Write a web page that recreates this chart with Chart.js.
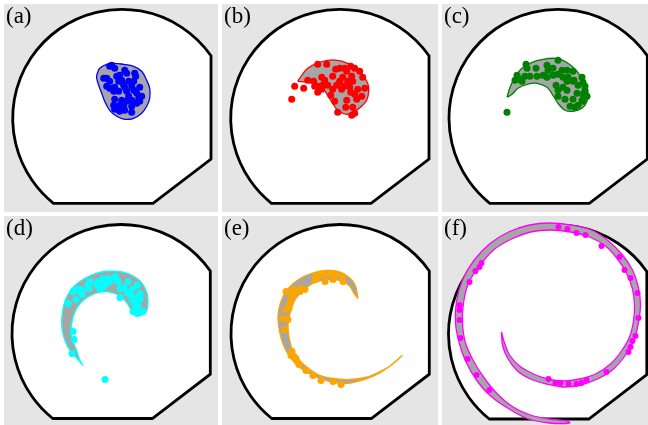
<!DOCTYPE html>
<html>
<head>
<meta charset="utf-8">
<script src="https://cdn.jsdelivr.net/npm/chart.js@4.4.0/dist/chart.umd.min.js"></script>
<style>
  html, body { margin: 0; padding: 0; background: #fff; }
  #wrap { position: relative; width: 648px; height: 425px; overflow: hidden; }
  .panel { position: absolute; background: #e5e5e5; overflow: hidden; }
  .panel canvas { position: absolute; left: 0; top: 0; }
  .tag { position: absolute; left: 2px; top: 0; font-family: 'Liberation Serif', 'DejaVu Serif', serif;
         font-size: 23px; line-height: 1; color: #000; }
</style>
</head>
<body>
<div id="wrap"></div>
<script>
// Panel tags and colours
const PANEL_TAGS = ['(a)', '(b)', '(c)', '(d)', '(e)', '(f)'];
const PANEL_COLORS = ['#0000ff', '#ff0000', '#008000', '#00ffff', '#ffa500', '#ff00ff'];

// Wafer outline (same units as the points, centre at 0,0)
const WAFER_R = 109;
const FLAT_RIGHT = 89.3;
const FLAT_BOTTOM = -85;
const CHAMFER = [[31.3, -85], [89.3, -40.7]];

// Cluster outlines (closed) and defect points, one pair per panel
const SHAPE_A = [[-25,43],[-22,50],[-15,54],[-8,55],[2,54],[12,52],[20,47],[25,38],[28,30],[28,20],[25,12],[20,5],[12,0],[3,-1],[-5,2],[-12,8],[-17,17],[-20,25],[-23,33],[-25,40],[-25,43]];
const PTS_A = [[-10,53],[-12,52],[-7,50],[3,48],[5,45],[13,45],[14,42],[-18,40],[-15,40],[0,38],[-3,37],[7,37],[-15,32],[-12,30],[-7,31],[2,33],[3,31],[10,32],[18,31],[-8,27],[-3,27],[5,27],[12,28],[15,25],[20,22],[-7,19],[0,18],[7,22],[10,18],[17,20],[18,17],[-8,13],[-2,13],[5,17],[2,12],[10,12],[15,15],[-7,9],[-2,7],[3,8],[10,6],[-12,37],[-5,42],[-2,43],[12,37]];

const SHAPE_B = [[-42,37],[-38,43],[-32,50],[-23,55],[-12,58],[-2,58],[8,55],[17,50],[23,43],[28,35],[29,27],[27,18],[22,12],[15,7],[7,4],[-2,8],[-7,15],[-12,23],[-17,30],[-23,34],[-32,36],[-42,37]];
const PTS_B = [[-22,54],[-13,54],[-4,49],[0,50],[5,50],[11,52],[15,50],[20,47],[23,41],[-32,38],[-26,37],[-18,41],[-15,38],[-7,42],[7,47],[3,41],[12,42],[8,37],[13,37],[4,32],[10,31],[18,29],[25,30],[-45,32],[-36,30],[-22,32],[-18,29],[-22,26],[-12,33],[-9,23],[-7,29],[-3,33],[2,29],[11,26],[15,24],[22,22],[-48,19],[-5,17],[7,18],[-2,6],[6,11],[13,11],[12,3],[15,5],[-25,32],[17,19],[0,37],[-17,33]];

const SHAPE_C = [[-51,21],[-48,31],[-43,41],[-36,50],[-26,56],[-15,59],[-3,60],[5,58],[14,52],[22,43],[28,33],[30,25],[29,17],[24,10],[15,7],[7,8],[0,15],[-5,23],[-11,31],[-21,35],[-31,34],[-40,30],[-46,24],[-51,21]];
const PTS_C = [[-32,54],[-31,50],[-22,50],[-11,53],[0,58],[-10,48],[-5,50],[4,48],[9,48],[15,47],[24,41],[-41,43],[-38,39],[-33,42],[-28,42],[-21,42],[-15,43],[-11,41],[-5,43],[0,44],[5,41],[10,41],[16,38],[9,37],[15,37],[20,33],[25,36],[-2,33],[5,31],[9,28],[0,28],[27,28],[19,25],[25,24],[29,22],[0,22],[7,19],[15,19],[24,18],[20,13],[12,12],[17,11],[-51,6],[-43,38],[-36,37],[25,17],[27,32]];

const SHAPE_D = [[-38,-32],[-44,-25],[-51,-17],[-56,-7],[-59,5],[-59,17],[-57,29],[-53,39],[-46,48],[-38,54],[-28,59],[-16,62],[-4,62],[7,60],[16,55],[22,49],[26,40],[27,32],[26,24],[22,19],[16,18],[11,22],[7,29],[2,35],[-6,40],[-16,42],[-26,40],[-34,36],[-41,30],[-46,22],[-49,12],[-50,2],[-48,-8],[-44,-18],[-41,-27],[-38,-32]];
const PTS_D = [[-53,30],[-48,42],[-44,44],[-45,34],[-39,39],[-39,44],[-33,49],[-31,52],[-32,45],[-24,49],[-23,52],[-18,55],[-18,47],[-14,50],[-13,55],[-6,57],[-11,52],[-3,52],[-1,45],[-1,36],[3,46],[7,52],[11,44],[9,39],[11,34],[16,48],[19,40],[16,36],[14,29],[17,27],[16,20],[22,22],[-48,2],[-47,-6],[-49,-20],[-16,-46],[-4,54],[6,41],[12,22],[-21,45],[19,34]];

const SHAPE_E = [[18,35],[15,49],[8,57],[-2,62],[-15,63],[-29,60],[-40,55],[-50,47],[-57,37],[-61,25],[-62,14],[-60,0],[-56,-13],[-49,-25],[-39,-35],[-25,-43],[-10,-48],[6,-50],[21,-47],[35,-42],[48,-34],[62,-22],[51,-32],[38,-39],[25,-44],[10,-46],[-7,-45],[-22,-41],[-34,-33],[-42,-25],[-48,-15],[-51,-3],[-52,9],[-50,20],[-46,32],[-39,41],[-29,49],[-19,53],[-7,54],[3,52],[10,47],[14,40],[18,35]];
const PTS_E = [[-24,57],[-19,59],[-14,60],[-9,60],[-5,59],[-7,54],[-15,52],[2,57],[3,52],[-25,54],[-35,44],[-40,42],[-45,43],[-54,42],[-48,38],[-49,34],[-51,25],[-54,24],[-57,15],[-52,14],[-55,4],[-48,-18],[-46,-23],[-44,-25],[-41,-31],[-34,-37],[-27,-42],[-19,-47],[-7,-48],[1,-51],[-50,30],[-47,44],[-39,45],[-49,-22]];

const SHAPE_F = [[-56,2],[-55,-11],[-50,-24],[-40,-37],[-27,-45],[-11,-50],[6,-53],[23,-51],[40,-45],[56,-35],[68,-21],[77,-5],[81,12],[83,29],[81,46],[75,64],[65,79],[51,93],[34,104],[13,109],[-8,111],[-28,109],[-49,102],[-68,90],[-84,73],[-95,54],[-101,33],[-102,11],[-98,-10],[-91,-29],[-81,-46],[-68,-61],[-50,-74],[-29,-85],[-8,-89],[12,-89],
  [10,-87],[-8,-85],[-27,-81],[-46,-72],[-62,-58],[-74,-43],[-84,-27],[-92,-9],[-95,11],[-94,31],[-89,51],[-78,68],[-64,84],[-46,95],[-27,102],[-7,104],[13,102],[32,97],[48,88],[60,75],[69,61],[75,45],[77,29],[76,13],[72,-3],[64,-17],[53,-30],[38,-40],[22,-45],[6,-47],[-10,-45],[-24,-40],[-38,-32],[-48,-21],[-53,-9],[-56,2]];
const PTS_F = [[1,107],[10,105],[19,101],[28,99],[44,88],[62,77],[67,64],[73,56],[80,41],[81,16],[78,-2],[75,-7],[73,-13],[71,-18],[49,-38],[29,-46],[24,-49],[19,-50],[11,-50],[3,-49],[-2,-49],[-9,-45],[-78,67],[-82,63],[-88,52],[-98,29],[-98,24],[-98,14],[-97,-4],[-90,-25],[-81,-41],[-68,-56],[-76,71]];

const SHAPES = [SHAPE_A, SHAPE_B, SHAPE_C, SHAPE_D, SHAPE_E, SHAPE_F];
const POINTS = [PTS_A, PTS_B, PTS_C, PTS_D, PTS_E, PTS_F];

// Panel boxes on the page and where the wafer centre sits in each
const LAYOUT = [
    { left: 4,   top: 4,   w: 214, h: 208, cx: 121.7, cy: 118.3 },
    { left: 222, top: 4,   w: 216, h: 208, cx: 339.7, cy: 118.3 },
    { left: 442, top: 4,   w: 206, h: 208, cx: 558,   cy: 118.3 },
    { left: 4,   top: 216, w: 214, h: 209, cx: 121,   cy: 333.5 },
    { left: 222, top: 216, w: 216, h: 209, cx: 340,   cy: 333.5 },
    { left: 442, top: 216, w: 206, h: 209, cx: 557.5, cy: 334 }
];

const toXY = (pairs) => pairs.map(([x, y]) => ({ x, y }));

// Draw the white wafer with its black edge, under the datasets
const waferOutline = {
    id: 'waferOutline',
    beforeDatasetsDraw(chart) {
        const { ctx, scales: { x, y } } = chart;
        const px = (v) => x.getPixelForValue(v);
        const py = (v) => y.getPixelForValue(v);
        const cx = px(0), cy = py(0);
        const r = px(WAFER_R) - cx;
        const yTop = Math.sqrt(WAFER_R * WAFER_R - FLAT_RIGHT * FLAT_RIGHT);
        const xLeft = -Math.sqrt(WAFER_R * WAFER_R - FLAT_BOTTOM * FLAT_BOTTOM);
        const start = -Math.atan2(yTop, FLAT_RIGHT);
        const end = -Math.atan2(FLAT_BOTTOM, xLeft);
        ctx.save();
        ctx.beginPath();
        ctx.arc(cx, cy, r, start, end, true);
        ctx.lineTo(px(CHAMFER[0][0]), py(CHAMFER[0][1]));
        ctx.lineTo(px(CHAMFER[1][0]), py(CHAMFER[1][1]));
        ctx.closePath();
        ctx.fillStyle = '#ffffff';
        ctx.fill();
        ctx.lineWidth = 2.8;
        ctx.lineJoin = 'miter';
        ctx.strokeStyle = '#000000';
        ctx.stroke();
        ctx.restore();
    }
};

const wrap = document.getElementById('wrap');

LAYOUT.forEach((box, i) => {
    const panel = document.createElement('div');
    panel.className = 'panel';
    panel.style.left = box.left + 'px';
    panel.style.top = box.top + 'px';
    panel.style.width = box.w + 'px';
    panel.style.height = box.h + 'px';

    const canvas = document.createElement('canvas');
    canvas.width = box.w;
    canvas.height = box.h;
    canvas.style.width = box.w + 'px';
    canvas.style.height = box.h + 'px';
    panel.appendChild(canvas);

    const tag = document.createElement('div');
    tag.className = 'tag';
    tag.textContent = PANEL_TAGS[i];
    panel.appendChild(tag);
    wrap.appendChild(panel);

    const color = PANEL_COLORS[i];
    new Chart(canvas.getContext('2d'), {
        type: 'scatter',
        data: {
            datasets: [
                {
                    label: 'defects',
                    data: toXY(POINTS[i]),
                    pointRadius: i === 5 ? 3 : 3.5,
                    pointBorderWidth: 0,
                    pointBackgroundColor: color,
                    showLine: false
                },
                {
                    label: 'cluster',
                    data: toXY(SHAPES[i]),
                    showLine: true,
                    fill: 'shape',
                    backgroundColor: '#a6a6a6',
                    borderColor: color,
                    borderWidth: 1.3,
                    tension: 0.35,
                    pointRadius: 0
                }
            ]
        },
        options: {
            responsive: false,
            animation: false,
            devicePixelRatio: 1,
            events: [],
            layout: { padding: 0, autoPadding: false },
            scales: {
                x: { type: 'linear', display: false, min: -(box.cx - box.left), max: box.left + box.w - box.cx },
                y: { type: 'linear', display: false, min: -(box.top + box.h - box.cy), max: box.cy - box.top }
            },
            plugins: {
                legend: { display: false },
                tooltip: { enabled: false }
            }
        },
        plugins: [waferOutline]
    });
});
</script>
</body>
</html>
